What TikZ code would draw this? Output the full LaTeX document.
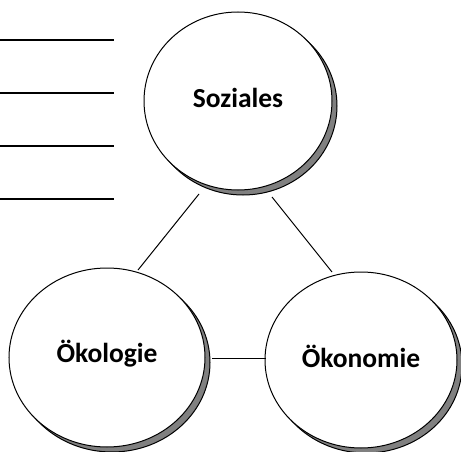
\documentclass[tikz,border=0pt]{standalone}
\usepackage{fontspec}
\setmainfont{Carlito}
\usetikzlibrary{shapes.geometric,shadows,calc}
\begin{document}
\begin{tikzpicture}[x=1pt,y=-1pt,
  bubble/.style={ellipse, draw=black, line width=1pt, fill=white, inner sep=0pt,
    font=\fontsize{27.5}{32}\selectfont\bfseries, text height=20pt,
    drop shadow={shadow xshift=5pt, shadow yshift=-5pt, fill=black!50, draw=black, line width=1pt, opacity=1}},
  link/.style={draw=black, line width=1pt},
  rulebar/.style={draw=black, line width=1.5pt}]
\useasboundingbox (0,0) rectangle (461,452);
% free writing lines
\draw[rulebar] (0,40) -- (114,40);
\draw[rulebar] (0,93) -- (114,93);
\draw[rulebar] (0,146) -- (114,146);
\draw[rulebar] (0,199) -- (114,199);
% bubbles
\node[bubble, minimum width=188pt, minimum height=178pt, text depth=8pt] (S) at (238,101) {Soziales};
\node[bubble, minimum width=196pt, minimum height=179pt, text depth=11pt] (L) at (107,357.5) {Ökologie};
\node[bubble, minimum width=192pt, minimum height=176pt, text depth=6pt] (R) at (361,360) {Ökonomie};
% connector ends
\coordinate (s1) at ($(S.center)+(-39,93)$);
\coordinate (l1) at ($(L.center)+(31,-87.5)$);
\coordinate (s2) at ($(S.center)+(34,96)$);
\coordinate (r1) at ($(R.center)+(-29,-88)$);
\coordinate (l2) at ($(L.center)+(105,0.5)$);
\coordinate (r2) at ($(R.center)+(-95,-2)$);
\draw[link] (s1) -- (l1);
\draw[link] (s2) -- (r1);
\draw[link] (l2) -- (r2);
\end{tikzpicture}
\end{document}
